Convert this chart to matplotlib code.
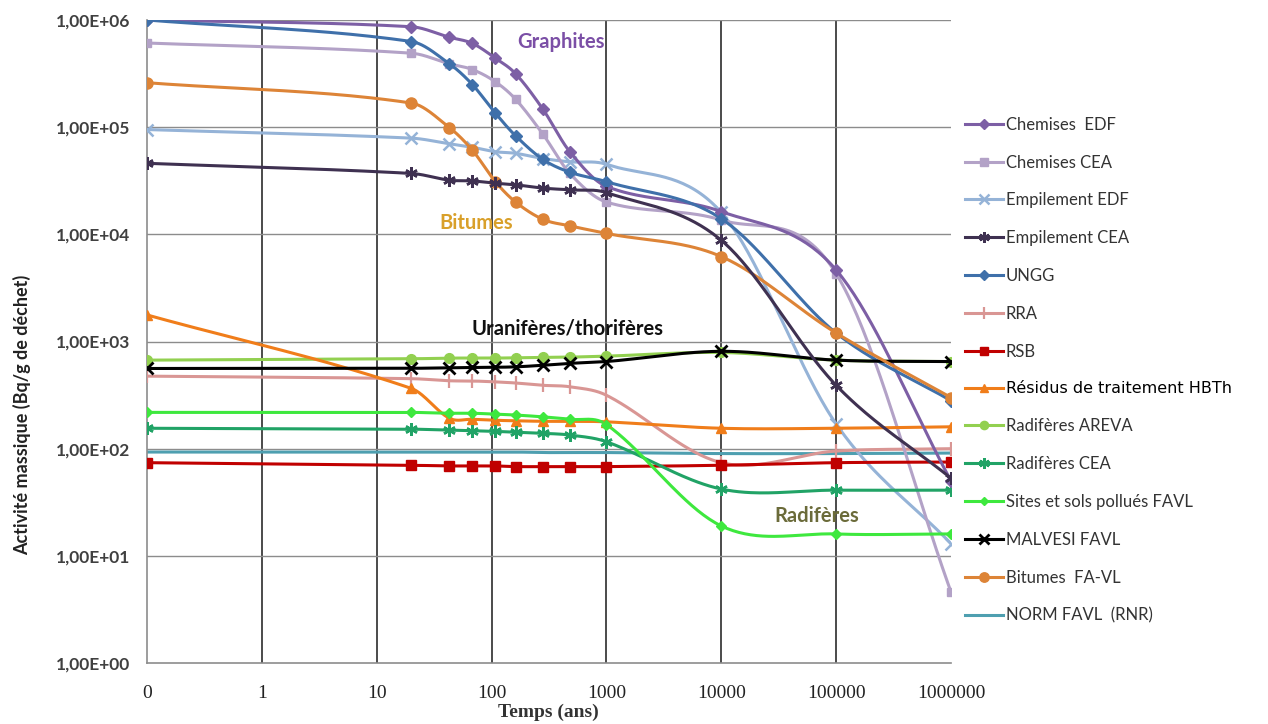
import numpy as np
import matplotlib
matplotlib.use("Agg")
import matplotlib.pyplot as plt
from matplotlib.lines import Line2D

# ---------------- data ----------------
times = [0, 20, 43, 68, 108, 162, 280, 480, 1000, 10000, 100000, 1000000]
x_ticks = [0, 1, 10, 100, 1000, 10000, 100000, 1000000]
x_tick_labels = ["0", "1", "10", "100", "1000", "10000", "100000", "1000000"]
y_ticks = [1, 10, 100, 1000, 10000, 100000, 1000000]
y_tick_labels = ["1,00E+00", "1,00E+01", "1,00E+02", "1,00E+03", "1,00E+04", "1,00E+05", "1,00E+06"]

chemises_edf = [1.0e6, 8.65e5, 6.9e5, 6.05e5, 4.4e5, 3.15e5, 1.47e5, 5.9e4, 2.8e4, 1.63e4, 4.65e3, 50]
chemises_cea = [6.1e5, 4.9e5, 3.9e5, 3.45e5, 2.65e5, 1.82e5, 8.6e4, 3.7e4, 2.0e4, 1.36e4, 4.3e3, 4.6]
empilement_edf = [9.5e4, 7.9e4, 7.0e4, 6.5e4, 5.9e4, 5.7e4, 5.1e4, 4.75e4, 4.5e4, 1.6e4, 170, 13]
empilement_cea = [4.6e4, 3.7e4, 3.2e4, 3.15e4, 3.0e4, 2.9e4, 2.7e4, 2.6e4, 2.45e4, 8.8e3, 390, 53]
ungg = [1.0e6, 6.3e5, 3.9e5, 2.5e5, 1.35e5, 8.3e4, 5.0e4, 3.8e4, 3.1e4, 1.4e4, 1.2e3, 280]
rra = [475, 450, 430, 428, 420, 410, 390, 378, 315, 74, 95, 100]
rsb = [74, 70, 69, 69, 69, 68, 68, 68, 68, 70, 74, 75]
residus_hbth = [1770, 365, 192, 188, 184, 182, 180, 180, 178, 155, 155, 160]
radiferes_areva = [670, 690, 700, 700, 700, 705, 710, 715, 730, 790, 670, 650]
radiferes_cea = [155, 152, 149, 147, 145, 142, 139, 134, 116, 42, 41, 41]
sites_sols = [218, 218, 214, 214, 210, 206, 198, 188, 168, 19, 16, 16]
malvesi = [560, 562, 570, 572, 575, 580, 600, 625, 650, 810, 670, 650]
bitumes = [2.6e5, 1.68e5, 9.9e4, 6.1e4, 3.1e4, 2.0e4, 1.38e4, 1.2e4, 1.02e4, 6.2e3, 1.2e3, 300]
norm_favl = [93, 93, 93, 93, 93, 93, 92, 92, 92, 90, 90, 91]

series_names = ["Chemises  EDF", "Chemises CEA", "Empilement EDF", "Empilement CEA", "UNGG",
                "RRA", "RSB", "Résidus de traitement HBTh", "Radifères AREVA", "Radifères CEA",
                "Sites et sols pollués FAVL", "MALVESI FAVL", "Bitumes  FA-VL", "NORM FAVL  (RNR)"]
series_values = [chemises_edf, chemises_cea, empilement_edf, empilement_cea, ungg,
                 rra, rsb, residus_hbth, radiferes_areva, radiferes_cea,
                 sites_sols, malvesi, bitumes, norm_favl]

# ---------------- styles ----------------
styles = [
    dict(color="#7d5fa5", marker="D", ms=6),
    dict(color="#b3a2c7", marker="s", ms=6),
    dict(color="#95b3d7", marker="x", ms=8, mew=1.8),
    dict(color="#3f3151", marker=(6, 2, 0), ms=9, mew=1.8),
    dict(color="#3f70aa", marker="D", ms=6),
    dict(color="#d99694", marker="|", ms=10, mew=1.6),
    dict(color="#c00000", marker="s", ms=7),
    dict(color="#f07d1a", marker="^", ms=7),
    dict(color="#92d050", marker="o", ms=7),
    dict(color="#21a366", marker=(6, 2, 0), ms=9, mew=1.8),
    dict(color="#3ee83e", marker="D", ms=5),
    dict(color="#000000", marker="x", ms=9, mew=2.0),
    dict(color="#dd8437", marker="o", ms=8),
    dict(color="#4e9fb0", marker=None, ms=0),
]
zorders = [5, 4, 3, 6, 5, 3, 4, 4, 3, 4, 4, 5, 5, 2]


def to_plot_x(t):
    return 0.1 if t == 0 else float(t)


def smooth_curve(xs, ys, n=40):
    """Smoothed curve (cubic Hermite in x, log-log display space), like a spreadsheet 'smoothed line'."""
    lx = np.log10(np.asarray(xs, float))
    ly = np.log10(np.asarray(ys, float))
    m = len(lx)
    slopes = np.zeros(m)
    slopes[0] = (ly[1] - ly[0]) / (lx[1] - lx[0])
    slopes[-1] = (ly[-1] - ly[-2]) / (lx[-1] - lx[-2])
    for i in range(1, m - 1):
        slopes[i] = (ly[i + 1] - ly[i - 1]) / (lx[i + 1] - lx[i - 1])
    ox, oy = [], []
    for i in range(m - 1):
        h = lx[i + 1] - lx[i]
        t = np.linspace(0, 1, n)
        if i > 0:
            t = t[1:]
        h00 = 2 * t ** 3 - 3 * t ** 2 + 1
        h10 = t ** 3 - 2 * t ** 2 + t
        h01 = -2 * t ** 3 + 3 * t ** 2
        h11 = t ** 3 - t ** 2
        yy = h00 * ly[i] + h10 * h * slopes[i] + h01 * ly[i + 1] + h11 * h * slopes[i + 1]
        ox.append(lx[i] + t * h)
        oy.append(yy)
    return 10 ** np.concatenate(ox), 10 ** np.concatenate(oy)


fig = plt.figure(figsize=(12.68, 7.24), dpi=100)
ax = fig.add_axes([147 / 1268, 1 - 663 / 724, (951 - 147) / 1268, (663 - 20) / 724])

px = [to_plot_x(t) for t in times]
handles = []
for name, vals, st, z in zip(series_names, series_values, styles, zorders):
    sx, sy = smooth_curve(px, vals)
    ax.plot(sx, sy, color=st["color"], lw=2.2, zorder=z, solid_capstyle="round")
    if st["marker"] is not None:
        ax.plot(px, vals, linestyle="none", marker=st["marker"], ms=st["ms"],
                mfc=st["color"], mec=st["color"], mew=st.get("mew", 1.0), zorder=z + 0.5)
    handles.append(Line2D([0], [0], color=st["color"], lw=2.2, marker=st["marker"],
                          ms=st["ms"] * 0.85 if st["marker"] else 0, mfc=st["color"],
                          mec=st["color"], mew=st.get("mew", 1.0)))

ax.set_xscale("log")
ax.set_yscale("log")
ax.set_xlim(0.1, 1e6)
ax.set_ylim(1, 1e6)

ax.set_xticks([to_plot_x(t) for t in x_ticks])
ax.set_xticklabels(x_tick_labels, fontfamily="Liberation Serif", fontsize=14, color="#222222")
ax.set_yticks(y_ticks)
ax.set_yticklabels(y_tick_labels, fontfamily="Lato", fontsize=12.5, fontweight="bold", color="#404040")
ax.minorticks_off()
ax.tick_params(axis="y", length=0, pad=12)
ax.tick_params(axis="x", length=0, pad=16)

# grid
for t in x_ticks[1:-1]:
    ax.axvline(t, color="#1a1a1a", lw=1.1, zorder=1)
for v in y_ticks[1:]:
    ax.axhline(v, color="#8c8c8c", lw=1.0, zorder=1)
for s in ["top", "right"]:
    ax.spines[s].set_visible(False)
for s in ["left", "bottom"]:
    ax.spines[s].set_color("#8c8c8c")
    ax.spines[s].set_linewidth(1.2)

fig.text(548 / 1268, 1 - 712 / 724, "Temps (ans)", ha="center", va="center",
         fontfamily="Liberation Serif", fontsize=14, fontweight="bold", color="#333333")
fig.text(22 / 1268, 1 - 415 / 724, "Activité massique (Bq/g de déchet)", rotation=90,
         ha="center", va="center", fontfamily="Lato", fontsize=13, fontweight="bold", color="#222222")

# annotations
ann_font = dict(fontfamily="Lato", fontweight="bold", fontsize=14.5, ha="center", va="center", zorder=10)
ax.text(402, 6.2e5, "Graphites", color="#7b4fa6", **ann_font)
ax.text(73, 1.28e4, "Bitumes", color="#d9a02a", **ann_font)
ax.text(454, 1336, "Uranifères/thorifères", color="#111111", **ann_font)
ax.text(6.8e4, 23.5, "Radifères", color="#6b6b3a", **ann_font)

leg = fig.legend(handles, series_names, loc="upper left", bbox_to_anchor=(958 / 1268, 1 - 110 / 724),
                 frameon=False, prop={"family": "Lato", "size": 12}, labelspacing=1.31,
                 handlelength=2.3, handletextpad=0.15, borderaxespad=0)
for txt in leg.get_texts():
    txt.set_color("#333333")
leg.get_texts()[7].set_fontfamily("DejaVu Sans")
leg.get_texts()[7].set_fontsize(11.5)
leg.get_texts()[7].set_color("#000000")

fig.savefig("out.png", dpi=100)
